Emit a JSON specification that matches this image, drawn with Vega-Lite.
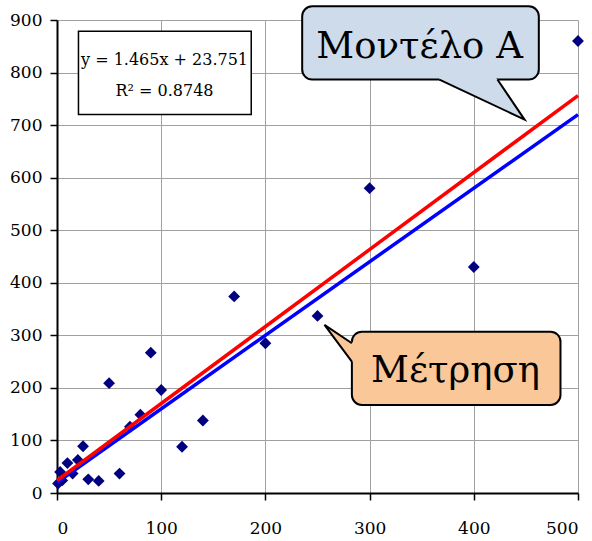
{
  "$schema": "https://vega.github.io/schema/vega-lite/v6.json",
  "width": 521,
  "height": 473,
  "autosize": {"type": "none"},
  "padding": {"left": 57, "top": 20, "right": 14, "bottom": 48},
  "background": "white",
  "view": {"stroke": null},
  "config": {
    "font": "DejaVu Serif",
    "axis": {
      "title": null,
      "grid": true,
      "gridColor": "#a0a0a0",
      "gridWidth": 1,
      "domainColor": "black",
      "domainWidth": 2,
      "tickColor": "black",
      "tickWidth": 1.5,
      "tickSize": 7,
      "labelFont": "DejaVu Serif",
      "labelFontSize": 17,
      "labelColor": "black"
    }
  },
  "layer": [
    {
      "data": {"values": [
        {"x": 1, "y": 18}, {"x": 3, "y": 40}, {"x": 5, "y": 24}, {"x": 10, "y": 57},
        {"x": 15, "y": 37}, {"x": 20, "y": 63}, {"x": 25, "y": 89}, {"x": 30, "y": 26},
        {"x": 40, "y": 23}, {"x": 50, "y": 209}, {"x": 60, "y": 37}, {"x": 70, "y": 126},
        {"x": 80, "y": 149}, {"x": 90, "y": 267}, {"x": 100, "y": 196}, {"x": 120, "y": 88},
        {"x": 140, "y": 138}, {"x": 170, "y": 374}, {"x": 200, "y": 285}, {"x": 250, "y": 337},
        {"x": 300, "y": 580}, {"x": 400, "y": 430}, {"x": 500, "y": 860}
      ]},
      "mark": {"type": "point", "shape": "diamond", "filled": true, "color": "#000080", "opacity": 1, "size": 140},
      "encoding": {
        "x": {"field": "x", "type": "quantitative",
              "scale": {"domain": [0, 500], "nice": false},
              "axis": {"values": [0, 100, 200, 300, 400, 500], "labelPadding": 20}},
        "y": {"field": "y", "type": "quantitative",
              "scale": {"domain": [0, 900], "nice": false},
              "axis": {"values": [0, 100, 200, 300, 400, 500, 600, 700, 800, 900], "labelPadding": 8}}
      }
    },
    {
      "data": {"values": [{"x": 0, "y": 20}, {"x": 500, "y": 720}]},
      "mark": {"type": "line", "color": "#0000ff", "strokeWidth": 3.5},
      "encoding": {
        "x": {"field": "x", "type": "quantitative"},
        "y": {"field": "y", "type": "quantitative"}
      }
    },
    {
      "data": {"values": [{"x": 0, "y": 23.751}, {"x": 500, "y": 756.251}]},
      "mark": {"type": "line", "color": "#ff0000", "strokeWidth": 3.5},
      "encoding": {
        "x": {"field": "x", "type": "quantitative"},
        "y": {"field": "y", "type": "quantitative"}
      }
    },
    {
      "data": {"values": [{"x": 20.6, "x2": 186.4, "y": 878.7, "y2": 720}]},
      "mark": {"type": "rect", "fill": "white", "stroke": "black", "strokeWidth": 1.5},
      "encoding": {
        "x": {"field": "x", "type": "quantitative"},
        "x2": {"field": "x2"},
        "y": {"field": "y", "type": "quantitative"},
        "y2": {"field": "y2"}
      }
    },
    {
      "data": {"values": [
        {"x": 103.2, "y": 815, "t": "y = 1.465x + 23.751"},
        {"x": 103.2, "y": 755, "t": "R² = 0.8748"}
      ]},
      "mark": {"type": "text", "font": "DejaVu Serif", "fontSize": 16, "align": "center", "baseline": "alphabetic", "color": "black"},
      "encoding": {
        "x": {"field": "x", "type": "quantitative"},
        "y": {"field": "y", "type": "quantitative"},
        "text": {"field": "t"}
      }
    },
    {
      "data": {"values": [{"x": 235.3, "x2": 462.4, "y": 926, "y2": 786.7}]},
      "mark": {"type": "rect", "fill": "#cddbeb", "stroke": "black", "strokeWidth": 2, "cornerRadius": 10},
      "encoding": {
        "x": {"field": "x", "type": "quantitative"},
        "x2": {"field": "x2"},
        "y": {"field": "y", "type": "quantitative"},
        "y2": {"field": "y2"}
      }
    },
    {
      "data": {"values": [
        {"x": 367, "y": 790, "y2": 786.7},
        {"x": 421, "y": 790, "y2": 736.3},
        {"x": 422.7, "y": 786.7, "y2": 734.7},
        {"x": 448.7, "y": 710.5, "y2": 710.5}
      ]},
      "mark": {"type": "area", "orient": "vertical", "fill": "#cddbeb", "opacity": 1},
      "encoding": {
        "x": {"field": "x", "type": "quantitative"},
        "y": {"field": "y", "type": "quantitative"},
        "y2": {"field": "y2"}
      }
    },
    {
      "data": {"values": [
        {"x": 367, "y": 786.7, "o": 1},
        {"x": 448.7, "y": 710.5, "o": 2},
        {"x": 422.7, "y": 786.7, "o": 3}
      ]},
      "mark": {"type": "line", "color": "black", "strokeWidth": 2},
      "encoding": {
        "x": {"field": "x", "type": "quantitative"},
        "y": {"field": "y", "type": "quantitative"},
        "order": {"field": "o", "type": "quantitative"}
      }
    },
    {
      "data": {"values": [{"x": 348, "y": 828.6, "t": "Μοντέλο Α"}]},
      "mark": {"type": "text", "font": "DejaVu Serif", "fontSize": 37, "align": "center", "baseline": "alphabetic", "color": "black"},
      "encoding": {
        "x": {"field": "x", "type": "quantitative"},
        "y": {"field": "y", "type": "quantitative"},
        "text": {"field": "t"}
      }
    },
    {
      "data": {"values": [{"x": 283, "x2": 483.2, "y": 307, "y2": 167.6}]},
      "mark": {"type": "rect", "fill": "#fac898", "stroke": "black", "strokeWidth": 2, "cornerRadius": 10},
      "encoding": {
        "x": {"field": "x", "type": "quantitative"},
        "x2": {"field": "x2"},
        "y": {"field": "y", "type": "quantitative"},
        "y2": {"field": "y2"}
      }
    },
    {
      "data": {"values": [
        {"y": 250, "x": 283, "x2": 285},
        {"y": 285, "x": 269.85, "x2": 285},
        {"y": 320, "x": 256.7, "x2": 256.7}
      ]},
      "mark": {"type": "area", "orient": "horizontal", "fill": "#fac898", "opacity": 1},
      "encoding": {
        "y": {"field": "y", "type": "quantitative"},
        "x": {"field": "x", "type": "quantitative"},
        "x2": {"field": "x2"}
      }
    },
    {
      "data": {"values": [
        {"x": 283, "y": 285, "o": 1},
        {"x": 256.7, "y": 320, "o": 2},
        {"x": 283, "y": 250, "o": 3}
      ]},
      "mark": {"type": "line", "color": "black", "strokeWidth": 2},
      "encoding": {
        "x": {"field": "x", "type": "quantitative"},
        "y": {"field": "y", "type": "quantitative"},
        "order": {"field": "o", "type": "quantitative"}
      }
    },
    {
      "data": {"values": [{"x": 382.4, "y": 212, "t": "Μέτρηση"}]},
      "mark": {"type": "text", "font": "DejaVu Serif", "fontSize": 37, "align": "center", "baseline": "alphabetic", "color": "black"},
      "encoding": {
        "x": {"field": "x", "type": "quantitative"},
        "y": {"field": "y", "type": "quantitative"},
        "text": {"field": "t"}
      }
    }
  ]
}
